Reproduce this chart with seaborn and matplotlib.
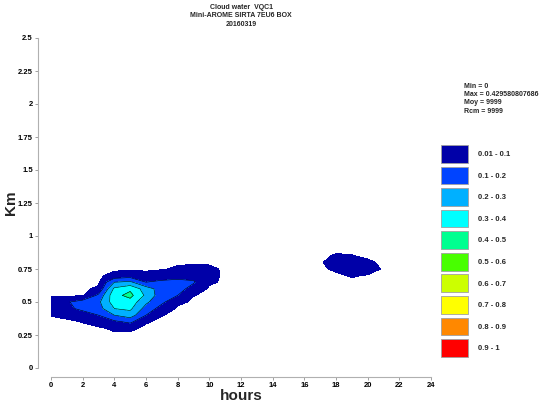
import numpy as np
import seaborn as sns
import matplotlib
matplotlib.use("Agg")
import matplotlib.pyplot as plt
from matplotlib.patches import Patch

# grid: hours along x, height (km) along y
hours = list(range(25))
heights = [0.20, 0.25, 0.30, 0.35, 0.40, 0.45, 0.50, 0.55,
           0.60, 0.65, 0.70, 0.75, 0.80, 0.85, 0.90]

# cloud water per hour (one value per height above), hours not listed are empty
profiles = {
    0:  [0, 0, 0, 0, .012, .05, .06, 0, 0, 0, 0, 0, 0, 0, 0],
    1:  [0, 0, 0, 0, .025, .08, .09, 0, 0, 0, 0, 0, 0, 0, 0],
    2:  [0, 0, 0, .012, .06, .12, .14, 0, 0, 0, 0, 0, 0, 0, 0],
    3:  [0, 0, 0, .04, .10, .16, .18, .12, .02, 0, 0, 0, 0, 0, 0],
    4:  [0, 0, .02, .08, .20, .30, .35, .37, .32, .20, .03, 0, 0, 0, 0],
    5:  [0, 0, .02, .12, .25, .32, .36, .43, .38, .22, .05, 0, 0, 0, 0],
    6:  [0, 0, 0, .015, .10, .16, .22, .28, .25, .10, .03, 0, 0, 0, 0],
    7:  [0, 0, 0, 0, .012, .06, .12, .14, .15, .12, .05, .005, 0, 0, 0],
    8:  [0, 0, 0, 0, 0, 0, .025, .10, .14, .13, .06, .02, 0, 0, 0],
    9:  [0, 0, 0, 0, 0, 0, 0, .012, .06, .11, .07, .035, 0, 0, 0],
    10: [0, 0, 0, 0, 0, 0, 0, 0, 0, .02, .03, .025, 0, 0, 0],
    18: [0, 0, 0, 0, 0, 0, 0, 0, 0, 0, 0, .02, .05, .015, 0],
    19: [0, 0, 0, 0, 0, 0, 0, 0, 0, 0, .015, .06, .06, .012, 0],
    20: [0, 0, 0, 0, 0, 0, 0, 0, 0, 0, .005, .05, .02, 0, 0],
}

levels = [0.01, 0.1, 0.2, 0.3, 0.4, 0.5, 0.6, 0.7, 0.8, 0.9, 1.0]
level_colors = ["#0000a8", "#0044ff", "#00b0ff", "#00ffff", "#00ff90",
                "#48ff00", "#ccff00", "#ffff00", "#ff8800", "#ff0000"]
level_labels = ["0.01 - 0.1", "0.1 - 0.2", "0.2 - 0.3", "0.3 - 0.4", "0.4 - 0.5",
                "0.5 - 0.6", "0.6 - 0.7", "0.7 - 0.8", "0.8 - 0.9", "0.9 - 1"]

title_lines = ["Cloud water  VQC1", "Mini-AROME SIRTA 7EU6 BOX", "20160319"]
stats_lines = ["Min = 0", "Max = 0.429580807686", "Moy = 9999", "Rcm = 9999"]

x_ticks = list(range(0, 25, 2))
y_ticks = [0, 0.25, 0.5, 0.75, 1, 1.25, 1.5, 1.75, 2, 2.25, 2.5]
y_tick_labels = ["0", "0.25", "0.5", "0.75", "1", "1.25", "1.5", "1.75", "2", "2.25", "2.5"]

cloud = np.zeros((len(heights), len(hours)))
for h, col in profiles.items():
    cloud[:, hours.index(h)] = col

sns.set_style("ticks")
plt.rcParams["font.family"] = ["Liberation Sans", "DejaVu Sans"]

W, H = 539, 407
fig = plt.figure(figsize=(W / 100, H / 100), dpi=100)
ax = fig.add_axes([51 / W, 39 / H, 380 / W, 330 / H])

ax.contourf(hours, heights, cloud, levels=levels, colors=level_colors)
ax.contour(hours, heights, cloud, levels=levels[1:], colors="black", linewidths=0.4)

ax.set_xlim(0, 24)
ax.set_ylim(0, 2.5)
ax.set_xticks(x_ticks)
ax.set_yticks(y_ticks)
ax.set_yticklabels(y_tick_labels)

sns.despine(ax=ax, offset={"left": 9.4, "bottom": 6.5})
for side in ["left", "bottom"]:
    ax.spines[side].set_color("#b0b0b0")
    ax.spines[side].set_linewidth(0.8)
ax.tick_params(axis="both", length=2.5, width=0.6, color="#909090",
               labelsize=5.5, pad=1.2, labelcolor="black")
for lab in ax.get_xticklabels() + ax.get_yticklabels():
    lab.set_fontweight("bold")

ax.set_xlabel("hours", fontsize=11, fontweight="bold", labelpad=0)
ax.set_ylabel("Km", fontsize=11, fontweight="bold", labelpad=0)

fig.text(241 / W, 1 - 4 / H, "\n".join(title_lines), ha="center", va="top",
         fontsize=5, fontweight="bold", linespacing=1.25)
fig.text(464 / W, 1 - 83 / H, "\n".join(stats_lines), ha="left", va="top",
         fontsize=5, fontweight="bold", linespacing=1.25)

handles = [Patch(facecolor=c, edgecolor="#a0a0a0", linewidth=0.6) for c in level_colors]
fig.legend(handles, level_labels, loc="upper left", bbox_to_anchor=(441 / W, 1 - 145 / H),
           frameon=False, borderpad=0, borderaxespad=0,
           handlelength=3.5, handleheight=3.2, labelspacing=0.5, handletextpad=1.3,
           prop={"weight": "bold", "size": 5.5})

fig.savefig("out.png", dpi=100)
